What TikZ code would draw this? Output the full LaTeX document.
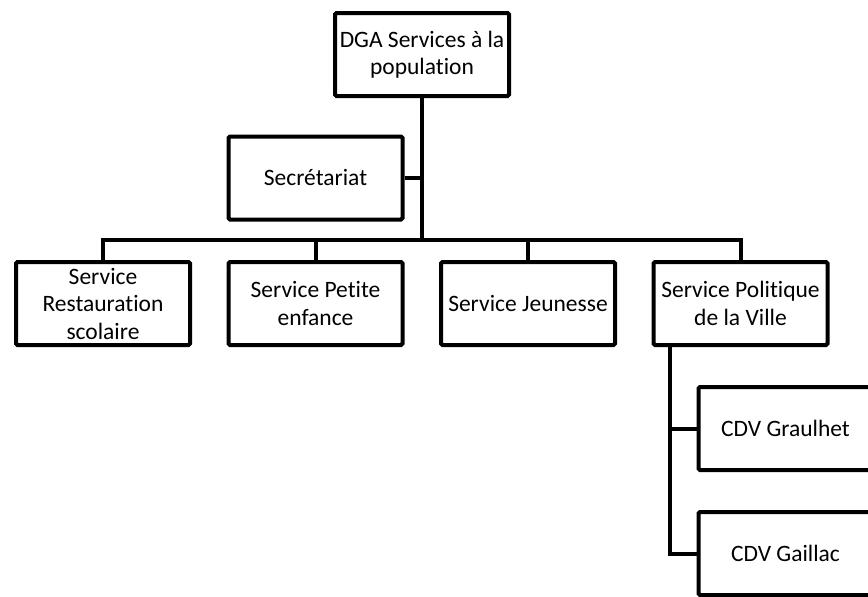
\documentclass[tikz,border=0pt]{standalone}
\usepackage{fontspec}
\setmainfont{Carlito}[Ligatures={NoCommon}]
\tikzset{
    unit/.style={draw, line width=4pt, rounded corners=1.5pt, align=center,
        minimum width=174pt, minimum height=83pt, inner sep=2pt,
        font=\fontsize{23.5}{27.5}\selectfont},
    link/.style={line width=4pt},
}

\begin{document}
\begin{tikzpicture}[x=1pt,y=-1pt]
    \clip (0,0) rectangle (868,597);
    \node[unit] (dga) at (422,54.5) {DGA Services à la\\population};
    \node[unit] (secr) at (315.5,178) {Secrétariat};
    \node[unit] (restau) at (103,303.5) {Service\\Restauration\\scolaire};
    \node[unit] (petite) at (315.5,303.5) {Service Petite\\enfance};
    \node[unit] (jeunesse) at (528,303.5) {Service Jeunesse};
    \node[unit] (politique) at (740.5,303.5) {Service Politique\\de la Ville};
    \node[unit] (graulhet) at (785.5,428.5) {CDV Graulhet};
    \node[unit] (gaillac) at (785.5,553.5) {CDV Gaillac};
    \coordinate (bus) at (0,240);
    \coordinate (trunk) at (670,0);
    \draw[link] (dga.south) -- (dga |- bus);
    \draw[link] (secr.east) -- (secr.east -| dga);
    \draw[link] (restau.north) -- (restau |- bus) -- (politique |- bus) -- (politique.north);
    \draw[link] (petite.north) -- (petite |- bus);
    \draw[link] (jeunesse.north) -- (jeunesse |- bus);
    \draw[link] (politique.south -| trunk) -- (gaillac.west -| trunk) -- (gaillac.west);
    \draw[link] (graulhet.west -| trunk) -- (graulhet.west);
\end{tikzpicture}
\end{document}
